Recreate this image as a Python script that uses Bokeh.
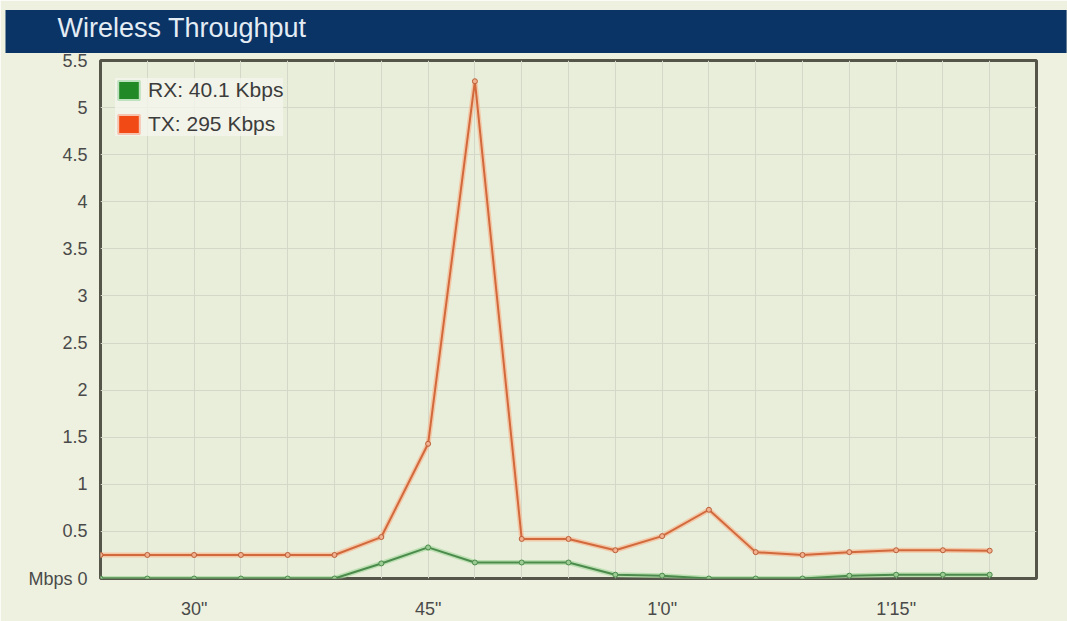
from bokeh.plotting import figure
from bokeh.models import Range1d, FixedTicker, Legend, LegendItem, ColumnDataSource, Title
from bokeh.embed import file_html
from bokeh.resources import INLINE

# ---- data ----
seconds = [24, 27, 30, 33, 36, 39, 42, 45, 48, 51, 54, 57, 60, 63, 66, 69, 72, 75, 78, 81]
rx_mbps = [0, 0, 0, 0, 0, 0, 0.16, 0.33, 0.17, 0.17, 0.17, 0.04, 0.03, 0, 0, 0, 0.03, 0.04, 0.04, 0.04]
tx_mbps = [0.25, 0.25, 0.25, 0.25, 0.25, 0.25, 0.44, 1.43, 5.28, 0.42, 0.42, 0.30, 0.45, 0.73, 0.28, 0.25, 0.28, 0.30, 0.30, 0.295]
series_labels = ["RX: 40.1 Kbps", "TX: 295 Kbps"]
x_tick_values = [30, 45, 60, 75]
x_tick_labels = ['30"', '45"', "1'0\"", "1'15\""]
x_grid_values = [24, 27, 30, 33, 36, 39, 42, 45, 48, 51, 54, 57, 60, 63, 66, 69, 72, 75, 78, 81, 84]
y_tick_values = [0, 0.5, 1, 1.5, 2, 2.5, 3, 3.5, 4, 4.5, 5, 5.5]
y_unit_label = "Mbps 0"
title_text = "Wireless Throughput"

# ---- style ----
NAVY = "#0A3366"
OUTER_BG = "#EEF1DF"
PLOT_BG = "#E9EEDA"
GRID = "#D3D8C8"
FONT = "Liberation Sans"
TX_CORE, TX_GLOW, TX_SWATCH = "#D2693C", "#F7B892", "#F24A14"
RX_CORE, RX_GLOW, RX_SWATCH = "#4B8B4B", "#A8D8A0", "#218A26"
W, H = 1067, 621

p = figure(width=W, height=H, x_range=Range1d(24, 84), y_range=Range1d(0, 5.5),
           toolbar_location=None, output_backend="svg",
           min_border_left=100, min_border_right=31, min_border_top=60, min_border_bottom=41)
p.background_fill_color = PLOT_BG
p.border_fill_color = OUTER_BG
p.outline_line_color = "#55554A"
p.outline_line_width = 3

# title bar: the title text with a navy background stretched by padding
p.title = Title(text=title_text, align="left", offset=-95, standoff=15,
                text_font=FONT, text_font_size="27px", text_font_style="normal",
                text_line_height=1.0, text_color="#E4ECF4", background_fill_color=NAVY,
                padding=(52, 760, 3, 10))

p.xaxis.ticker = FixedTicker(ticks=x_tick_values)
p.xaxis.major_label_overrides = dict(zip(x_tick_values, x_tick_labels))
p.yaxis.ticker = FixedTicker(ticks=y_tick_values)
p.yaxis.major_label_overrides = {0: y_unit_label}
for ax in (p.xaxis, p.yaxis):
    ax.axis_line_color = None
    ax.major_tick_line_color = None
    ax.minor_tick_line_color = None
    ax.major_label_text_font = FONT
    ax.major_label_text_font_size = "18px"
    ax.major_label_text_color = "#4A4A4A"
p.xaxis.major_label_standoff = 14
p.yaxis.major_label_standoff = 7

p.xgrid.ticker = FixedTicker(ticks=x_grid_values)
p.ygrid.ticker = FixedTicker(ticks=y_tick_values)
p.xgrid.grid_line_color = GRID
p.ygrid.grid_line_color = GRID

src = ColumnDataSource(dict(x=seconds, rx=rx_mbps, tx=tx_mbps))

p.line("x", "rx", source=src, line_color=RX_GLOW, line_width=5, line_alpha=0.7)
p.line("x", "rx", source=src, line_color=RX_CORE, line_width=2)
p.scatter("x", "rx", source=src, size=5, fill_color="#9CCB94", line_color=RX_CORE, line_width=1)

p.line("x", "tx", source=src, line_color=TX_GLOW, line_width=5, line_alpha=0.7)
p.line("x", "tx", source=src, line_color=TX_CORE, line_width=2)
p.scatter("x", "tx", source=src, size=5, fill_color="#F2B08E", line_color="#B9603A", line_width=1)

nan = float("nan")
sw_rx = p.quad(left=[nan], right=[nan], top=[nan], bottom=[nan], fill_color=RX_SWATCH,
               line_color="#BDE2BD", line_width=2)
sw_tx = p.quad(left=[nan], right=[nan], top=[nan], bottom=[nan], fill_color=TX_SWATCH,
               line_color="#F6C4AE", line_width=2)

legend = Legend(items=[LegendItem(label=series_labels[0], renderers=[sw_rx]),
                       LegendItem(label=series_labels[1], renderers=[sw_tx])],
                location=(15, 442), margin=0, padding=8, spacing=10,
                glyph_width=27, glyph_height=24, label_height=24, label_standoff=6,
                label_text_font=FONT, label_text_font_size="21px", label_text_color="#3C3C3C",
                background_fill_color="#F5F6EE", background_fill_alpha=0.75,
                border_line_color=None)
p.add_layout(legend)

open("out.html", "w").write(file_html(p, INLINE))
